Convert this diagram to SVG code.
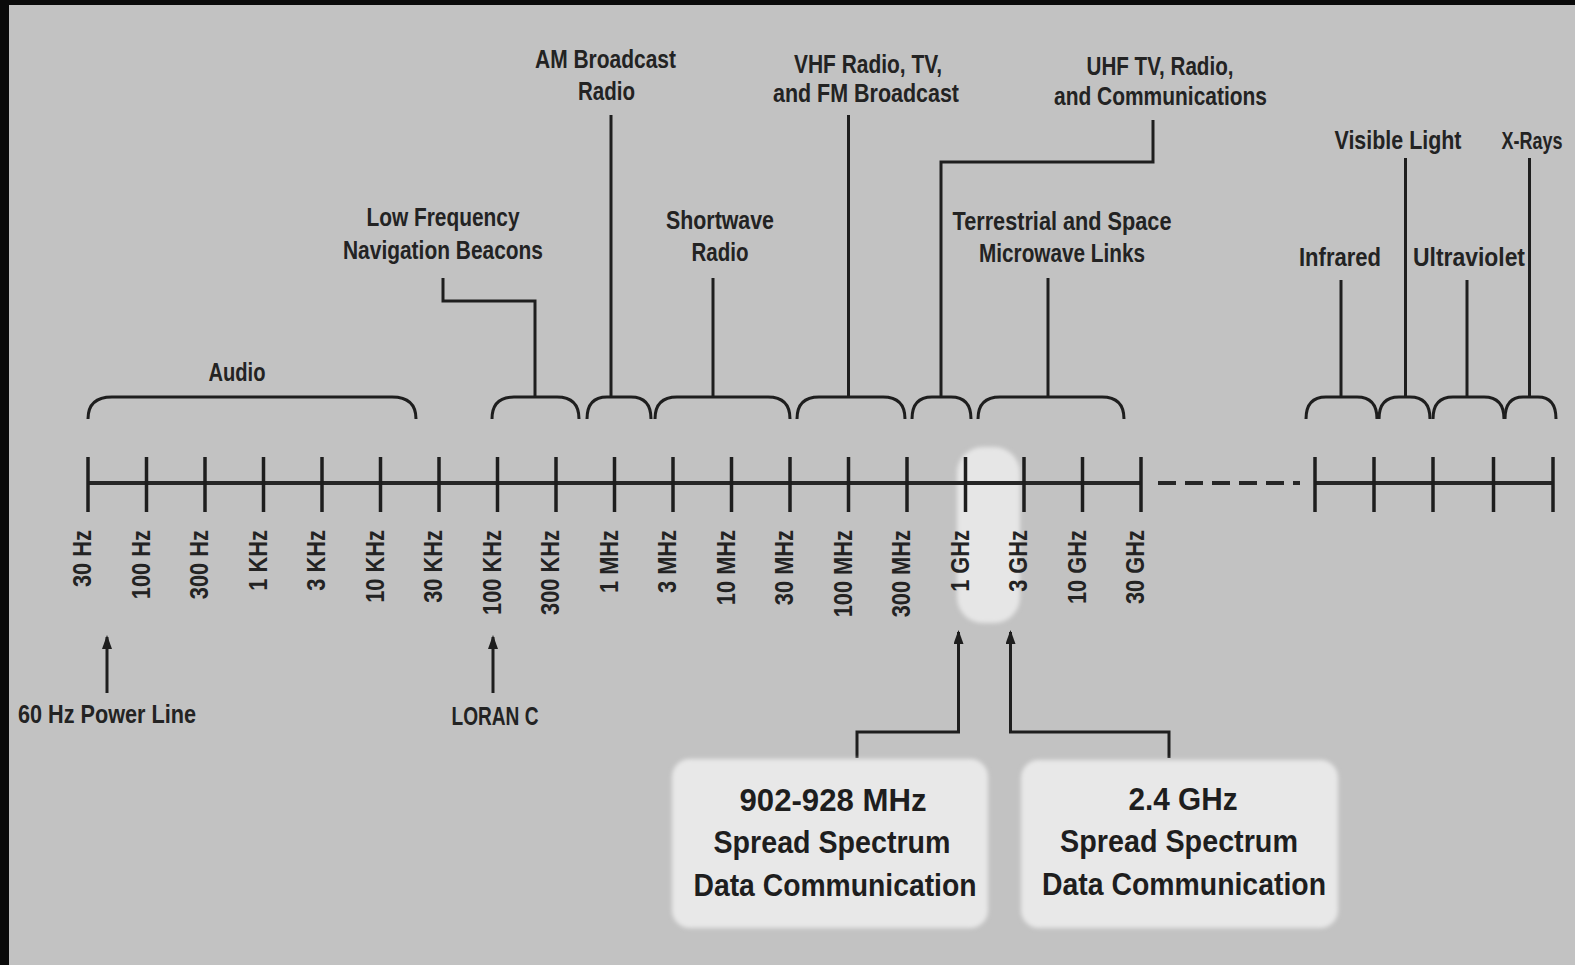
<svg xmlns="http://www.w3.org/2000/svg" width="1575" height="965" viewBox="0 0 1575 965">
<defs>
<style>
.t{font-family:"Liberation Sans",Arial,sans-serif;font-weight:bold;fill:#232323;font-size:25.5px;text-anchor:middle}
.tk{font-family:"Liberation Sans",Arial,sans-serif;font-weight:bold;fill:#232323;font-size:26px;text-anchor:end}
.bx{font-family:"Liberation Sans",Arial,sans-serif;font-weight:bold;fill:#1e1e1e;font-size:31px;text-anchor:middle}
.ln{fill:none;stroke:#1e1e1e;stroke-width:3}
.tick{stroke:#1e1e1e;stroke-width:3.5}
.axis{stroke:#262626;stroke-width:4;fill:none}
.box{fill:#e8e8e8;stroke:none}
</style>
<marker id="arr" viewBox="0 0 14 10" refX="12" refY="5" markerWidth="14" markerHeight="10" markerUnits="userSpaceOnUse" orient="auto">
<path d="M0,0 L14,5 L0,10 Z" fill="#1e1e1e"/>
</marker>
<filter id="soft" x="-10%" y="-10%" width="120%" height="120%"><feGaussianBlur stdDeviation="2"/></filter>
</defs>
<rect x="0" y="0" width="1575" height="965" fill="#c2c2c2"/>
<rect x="0" y="0" width="1575" height="5" fill="#0a0a0a"/>
<rect x="0" y="0" width="9" height="965" fill="#0a0a0a"/>

<g id="highlight"><rect x="957" y="447" width="63" height="176" rx="26" fill="#e6e6e6" filter="url(#soft)"/></g>

<g id="axis">
<line class="axis" x1="88" y1="483" x2="1141" y2="483"/>
<line class="axis" x1="1158" y1="483" x2="1300" y2="483" stroke-dasharray="18 9"/>
<line class="axis" x1="1315" y1="483" x2="1553" y2="483"/>
<g id="ticks">
<line class="tick" x1="88" y1="457" x2="88" y2="512"/>
<line class="tick" x1="146.5" y1="457" x2="146.5" y2="512"/>
<line class="tick" x1="205" y1="457" x2="205" y2="512"/>
<line class="tick" x1="263.5" y1="457" x2="263.5" y2="512"/>
<line class="tick" x1="322" y1="457" x2="322" y2="512"/>
<line class="tick" x1="380.5" y1="457" x2="380.5" y2="512"/>
<line class="tick" x1="439" y1="457" x2="439" y2="512"/>
<line class="tick" x1="497.5" y1="457" x2="497.5" y2="512"/>
<line class="tick" x1="556" y1="457" x2="556" y2="512"/>
<line class="tick" x1="614.5" y1="457" x2="614.5" y2="512"/>
<line class="tick" x1="673" y1="457" x2="673" y2="512"/>
<line class="tick" x1="731.5" y1="457" x2="731.5" y2="512"/>
<line class="tick" x1="790" y1="457" x2="790" y2="512"/>
<line class="tick" x1="848.5" y1="457" x2="848.5" y2="512"/>
<line class="tick" x1="907" y1="457" x2="907" y2="512"/>
<line class="tick" x1="965.5" y1="457" x2="965.5" y2="512"/>
<line class="tick" x1="1024" y1="457" x2="1024" y2="512"/>
<line class="tick" x1="1082.5" y1="457" x2="1082.5" y2="512"/>
<line class="tick" x1="1141" y1="457" x2="1141" y2="512"/>
<line class="tick" x1="1315" y1="457" x2="1315" y2="512"/>
<line class="tick" x1="1374" y1="457" x2="1374" y2="512"/>
<line class="tick" x1="1433" y1="457" x2="1433" y2="512"/>
<line class="tick" x1="1493.5" y1="457" x2="1493.5" y2="512"/>
<line class="tick" x1="1553" y1="457" x2="1553" y2="512"/>
</g>
<g id="tick-labels">
<text class="tk" transform="translate(91,530) rotate(-90) scale(0.84,1)">30 Hz</text>
<text class="tk" transform="translate(149.5,530) rotate(-90) scale(0.84,1)">100 Hz</text>
<text class="tk" transform="translate(208,530) rotate(-90) scale(0.84,1)">300 Hz</text>
<text class="tk" transform="translate(266.5,530) rotate(-90) scale(0.84,1)">1 KHz</text>
<text class="tk" transform="translate(325,530) rotate(-90) scale(0.84,1)">3 KHz</text>
<text class="tk" transform="translate(383.5,530) rotate(-90) scale(0.84,1)">10 KHz</text>
<text class="tk" transform="translate(442,530) rotate(-90) scale(0.84,1)">30 KHz</text>
<text class="tk" transform="translate(500.5,530) rotate(-90) scale(0.84,1)">100 KHz</text>
<text class="tk" transform="translate(559,530) rotate(-90) scale(0.84,1)">300 KHz</text>
<text class="tk" transform="translate(617.5,530) rotate(-90) scale(0.84,1)">1 MHz</text>
<text class="tk" transform="translate(676,530) rotate(-90) scale(0.84,1)">3 MHz</text>
<text class="tk" transform="translate(734.5,530) rotate(-90) scale(0.84,1)">10 MHz</text>
<text class="tk" transform="translate(793,530) rotate(-90) scale(0.84,1)">30 MHz</text>
<text class="tk" transform="translate(851.5,530) rotate(-90) scale(0.84,1)">100 MHz</text>
<text class="tk" transform="translate(910,530) rotate(-90) scale(0.84,1)">300 MHz</text>
<text class="tk" transform="translate(968.5,530) rotate(-90) scale(0.84,1)">1 GHz</text>
<text class="tk" transform="translate(1027,530) rotate(-90) scale(0.84,1)">3 GHz</text>
<text class="tk" transform="translate(1085.5,530) rotate(-90) scale(0.84,1)">10 GHz</text>
<text class="tk" transform="translate(1144,530) rotate(-90) scale(0.84,1)">30 GHz</text>
</g>
</g>

<g id="connectors">
<path class="ln" d="M88,419 Q88,397 112,397 H392 Q416,397 416,419"/>
<path class="ln" d="M492,419 Q492,397 514,397 H557 Q579,397 579,419"/>
<path class="ln" d="M587,419 Q587,397 607,397 H631 Q651,397 651,419"/>
<path class="ln" d="M655,419 Q655,397 677,397 H768 Q790,397 790,419"/>
<path class="ln" d="M797,419 Q797,397 819,397 H883 Q905,397 905,419"/>
<path class="ln" d="M912,419 Q912,397 932,397 H951 Q971,397 971,419"/>
<path class="ln" d="M978,419 Q978,397 1000,397 H1102 Q1124,397 1124,419"/>
<path class="ln" d="M1306,419 Q1306,397 1326,397 H1357 Q1377,397 1377,419"/>
<path class="ln" d="M1379,419 Q1379,397 1399,397 H1410 Q1430,397 1430,419"/>
<path class="ln" d="M1433,419 Q1433,397 1453,397 H1484 Q1504,397 1504,419"/>
<path class="ln" d="M1505,419 Q1505,397 1523,397 H1538 Q1556,397 1556,419"/>
<polyline class="ln" points="443,278 443,301 535,301 535,397"/>
<line class="ln" x1="611" y1="115" x2="611" y2="397"/>
<line class="ln" x1="713" y1="278" x2="713" y2="397"/>
<line class="ln" x1="848.5" y1="115" x2="848.5" y2="397"/>
<polyline class="ln" points="1153,120 1153,162 941,162 941,397"/>
<line class="ln" x1="1048" y1="278" x2="1048" y2="397"/>
<line class="ln" x1="1341" y1="280" x2="1341" y2="397"/>
<line class="ln" x1="1405.5" y1="158" x2="1405.5" y2="397"/>
<line class="ln" x1="1467" y1="280" x2="1467" y2="397"/>
<line class="ln" x1="1529.5" y1="158" x2="1529.5" y2="397"/>
<line class="ln" x1="107" y1="693" x2="107" y2="637" marker-end="url(#arr)"/>
<line class="ln" x1="493" y1="693" x2="493" y2="637" marker-end="url(#arr)"/>
<polyline class="ln" points="857,758 857,732 958.5,732 958.5,632" marker-end="url(#arr)"/>
<polyline class="ln" points="1169,758 1169,732 1010.5,732 1010.5,632" marker-end="url(#arr)"/>
</g>

<g id="label-audio"><text class="t" x="237" y="381" textLength="57" lengthAdjust="spacingAndGlyphs">Audio</text></g>
<g id="label-lf"><text class="t" x="443" y="226" textLength="153" lengthAdjust="spacingAndGlyphs">Low Frequency</text><text class="t" x="443" y="259" textLength="200" lengthAdjust="spacingAndGlyphs">Navigation Beacons</text></g>
<g id="label-am"><text class="t" x="605.5" y="68" textLength="141" lengthAdjust="spacingAndGlyphs">AM Broadcast</text><text class="t" x="606.5" y="100" textLength="57" lengthAdjust="spacingAndGlyphs">Radio</text></g>
<g id="label-sw"><text class="t" x="720" y="229" textLength="108" lengthAdjust="spacingAndGlyphs">Shortwave</text><text class="t" x="720" y="261" textLength="57" lengthAdjust="spacingAndGlyphs">Radio</text></g>
<g id="label-vhf"><text class="t" x="868" y="73" textLength="148" lengthAdjust="spacingAndGlyphs">VHF Radio, TV,</text><text class="t" x="866" y="102" textLength="186" lengthAdjust="spacingAndGlyphs">and FM Broadcast</text></g>
<g id="label-uhf"><text class="t" x="1160" y="75" textLength="147" lengthAdjust="spacingAndGlyphs">UHF TV, Radio,</text><text class="t" x="1160.5" y="105" textLength="213" lengthAdjust="spacingAndGlyphs">and Communications</text></g>
<g id="label-mw"><text class="t" x="1062" y="230" textLength="219" lengthAdjust="spacingAndGlyphs">Terrestrial and Space</text><text class="t" x="1062" y="262" textLength="166" lengthAdjust="spacingAndGlyphs">Microwave Links</text></g>
<g id="label-ir"><text class="t" x="1340" y="266" textLength="82" lengthAdjust="spacingAndGlyphs">Infrared</text></g>
<g id="label-vis"><text class="t" x="1398" y="149" textLength="127" lengthAdjust="spacingAndGlyphs">Visible Light</text></g>
<g id="label-uv"><text class="t" x="1469" y="266" textLength="112" lengthAdjust="spacingAndGlyphs">Ultraviolet</text></g>
<g id="label-xray"><text class="t" x="1532" y="149" style="font-size:24.5px" textLength="61" lengthAdjust="spacingAndGlyphs">X-Rays</text></g>
<g id="label-60hz"><text class="t" x="107" y="723" textLength="178" lengthAdjust="spacingAndGlyphs">60 Hz Power Line</text></g>
<g id="label-loran"><text class="t" x="495" y="725" textLength="87" lengthAdjust="spacingAndGlyphs">LORAN C</text></g>

<g id="box-900">
<rect class="box" x="672" y="759" width="316" height="169" rx="18" filter="url(#soft)"/>
<text class="bx" x="833" y="811" textLength="187" lengthAdjust="spacingAndGlyphs">902-928 MHz</text>
<text class="bx" x="832" y="853" textLength="237" lengthAdjust="spacingAndGlyphs">Spread Spectrum</text>
<text class="bx" x="835" y="896" textLength="283" lengthAdjust="spacingAndGlyphs">Data Communication</text>
</g>
<g id="box-24">
<rect class="box" x="1021" y="760" width="317" height="168" rx="18" filter="url(#soft)"/>
<text class="bx" x="1183" y="810" textLength="109" lengthAdjust="spacingAndGlyphs">2.4 GHz</text>
<text class="bx" x="1179" y="852" textLength="238" lengthAdjust="spacingAndGlyphs">Spread Spectrum</text>
<text class="bx" x="1184" y="895" textLength="284" lengthAdjust="spacingAndGlyphs">Data Communication</text>
</g>
</svg>
